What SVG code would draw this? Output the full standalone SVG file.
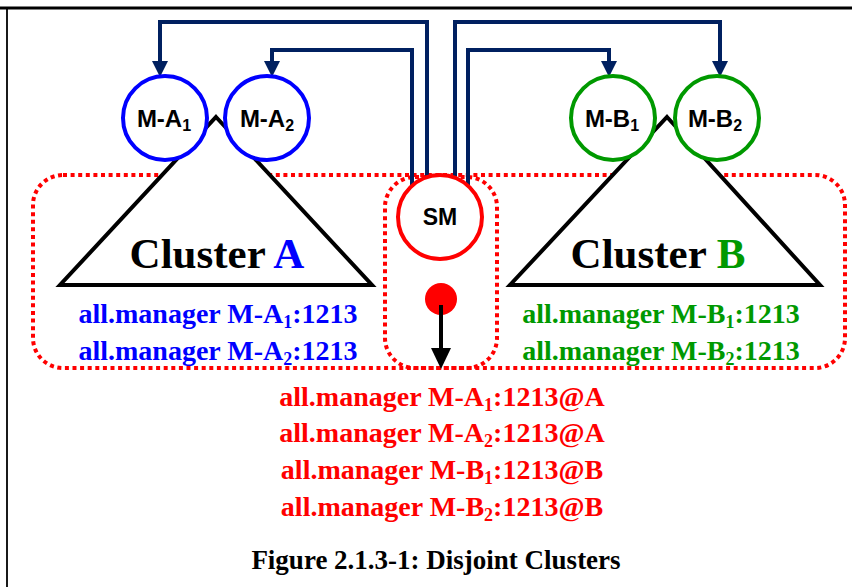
<svg xmlns="http://www.w3.org/2000/svg" width="852" height="587" viewBox="0 0 852 587">
<style>
.serif{font-family:"Liberation Serif","Times New Roman",serif;font-weight:bold;}
.sans{font-family:"Liberation Sans",Arial,sans-serif;font-weight:bold;}
.dot{fill:none;stroke:#ff0000;stroke-width:4;stroke-dasharray:4 3.6;}
.tri{fill:#ffffff;stroke:#000000;stroke-width:4;stroke-linejoin:miter;}
.conn{fill:none;stroke:#002060;stroke-width:4;stroke-linejoin:miter;}
.head{fill:#002060;}
.cb{fill:#ffffff;stroke:#0000ff;stroke-width:4;}
.cg{fill:#ffffff;stroke:#009900;stroke-width:4;}
.cr{fill:#ffffff;stroke:#ff0000;stroke-width:4;}
</style>
<rect x="0" y="0" width="852" height="587" fill="#ffffff"/>
<g id="frame">
<line x1="0" y1="8" x2="852" y2="8" stroke="#000" stroke-width="3"/>
<line x1="7" y1="8" x2="7" y2="587" stroke="#000" stroke-width="1.8"/>
</g>
<g id="boundaries">
<rect class="dot" x="33" y="175" width="812" height="193" rx="30"/>
<rect class="dot" x="385" y="177" width="112" height="191" rx="30"/>
</g>
<g id="cluster-A">
<polygon class="tri" points="216,117 372,285 60,285"/>
<text class="serif" x="217" y="268" font-size="43" text-anchor="middle">Cluster <tspan fill="#0000ff">A</tspan></text>
<text class="serif" x="218" y="323" font-size="28" fill="#0000ff" text-anchor="middle">all.manager M-A<tspan font-size="18" dy="5">1</tspan><tspan dy="-5">:1213</tspan></text>
<text class="serif" x="218" y="360" font-size="28" fill="#0000ff" text-anchor="middle">all.manager M-A<tspan font-size="18" dy="5">2</tspan><tspan dy="-5">:1213</tspan></text>
</g>
<g id="cluster-B">
<polygon class="tri" points="667,117 820,285 510,285"/>
<text class="serif" x="658" y="268" font-size="43" text-anchor="middle">Cluster <tspan fill="#009900">B</tspan></text>
<text class="serif" x="661" y="323" font-size="28" fill="#009900" text-anchor="middle">all.manager M-B<tspan font-size="18" dy="5">1</tspan><tspan dy="-5">:1213</tspan></text>
<text class="serif" x="661" y="360" font-size="28" fill="#009900" text-anchor="middle">all.manager M-B<tspan font-size="18" dy="5">2</tspan><tspan dy="-5">:1213</tspan></text>
</g>
<g id="connectors">
<polyline class="conn" points="427,176 427,22 160,22 160,64"/>
<polygon class="head" points="152,61 168,61 160,77"/>
<polyline class="conn" points="412,190 412,50 272,50 272,64"/>
<polygon class="head" points="264,61 280,61 272,77"/>
<polyline class="conn" points="455,176 455,22 720,22 720,64"/>
<polygon class="head" points="712,61 728,61 720,77"/>
<polyline class="conn" points="468,190 468,50 609,50 609,64"/>
<polygon class="head" points="601,61 617,61 609,77"/>
</g>
<g id="node-MA1">
<circle class="cb" cx="165" cy="118" r="42"/>
<text class="sans" x="164" y="127" font-size="24" text-anchor="middle">M-A<tspan font-size="16" dy="4">1</tspan></text>
</g>
<g id="node-MA2">
<circle class="cb" cx="267" cy="118" r="42"/>
<text class="sans" x="267" y="127" font-size="24" text-anchor="middle">M-A<tspan font-size="16" dy="4">2</tspan></text>
</g>
<g id="node-MB1">
<circle class="cg" cx="613" cy="118" r="42"/>
<text class="sans" x="612" y="127" font-size="24" text-anchor="middle">M-B<tspan font-size="16" dy="4">1</tspan></text>
</g>
<g id="node-MB2">
<circle class="cg" cx="717" cy="118" r="42"/>
<text class="sans" x="715" y="127" font-size="24" text-anchor="middle">M-B<tspan font-size="16" dy="4">2</tspan></text>
</g>
<g id="node-SM">
<circle class="cr" cx="440" cy="217" r="42"/>
<text class="sans" x="440" y="225" font-size="23" text-anchor="middle">SM</text>
</g>
<g id="output-arrow">
<circle cx="441" cy="299" r="16" fill="#ff0000"/>
<line x1="441" y1="305" x2="441" y2="350" stroke="#000" stroke-width="4"/>
<polygon points="431,348 451,348 441,369" fill="#000"/>
</g>
<g id="output-text" fill="#ff0000">
<text class="serif" x="442" y="406" font-size="28" text-anchor="middle">all.manager M-A<tspan font-size="18" dy="5">1</tspan><tspan dy="-5">:1213@A</tspan></text>
<text class="serif" x="442" y="442" font-size="28" text-anchor="middle">all.manager M-A<tspan font-size="18" dy="5">2</tspan><tspan dy="-5">:1213@A</tspan></text>
<text class="serif" x="442" y="479" font-size="28" text-anchor="middle">all.manager M-B<tspan font-size="18" dy="5">1</tspan><tspan dy="-5">:1213@B</tspan></text>
<text class="serif" x="442" y="516" font-size="28" text-anchor="middle">all.manager M-B<tspan font-size="18" dy="5">2</tspan><tspan dy="-5">:1213@B</tspan></text>
</g>
<g id="caption">
<text class="serif" x="436" y="569" font-size="27" text-anchor="middle">Figure 2.1.3-1: Disjoint Clusters</text>
</g>
</svg>
